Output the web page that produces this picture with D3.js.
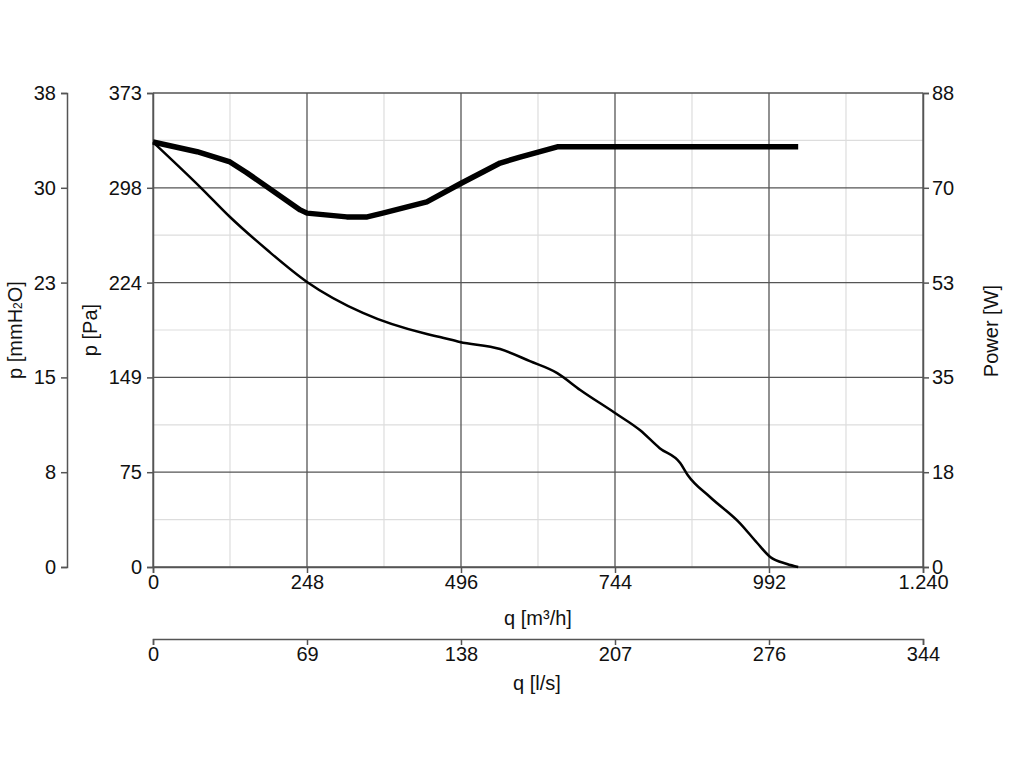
<!DOCTYPE html>
<html><head><meta charset="utf-8">
<script src="https://cdn.jsdelivr.net/npm/d3@7"></script>
<style>body{margin:0;background:#fff}svg{display:block}text{font-family:"Liberation Sans",Arial,sans-serif;fill:#111}</style>
</head><body>
<script>
// Flow (m³/h) and pressure (Pa) for the thin curve
const pressQ = [0, 76, 124, 184, 248, 338, 441, 462, 494, 559, 607, 651, 688, 744, 784, 816, 849, 861, 897, 945, 973, 994, 1021, 1039];
const pressPa = [334.4, 299.0, 275.4, 249.4, 224.3, 199.9, 183.3, 181.0, 177.1, 171.5, 162.0, 152.6, 139.3, 121.2, 107.8, 93.5, 81.8, 72.4, 55.1, 34.6, 18.9, 7.9, 2.4, 0];
// Flow (m³/h) and power (W) for the thick curve
const powerQ = [0, 71, 124, 151, 237, 248, 312, 345, 370, 441, 494, 559, 591, 651, 1039];
const powerW = [78.9, 77.1, 75.2, 73.2, 66.3, 65.7, 65.0, 65.0, 65.7, 67.8, 71.1, 75.0, 76.1, 78.0, 78.0];
// axis maxima and tick labels
const qMax = 1240, paMax = 373, mmMax = 38, wMax = 88, lsMax = 1240/3.6;
const qTicks = ["0","248","496","744","992","1.240"];
const paTicks = ["0","75","149","224","298","373"];
const mmTicks = ["0","8","15","23","30","38"];
const wTicks = ["0","18","35","53","70","88"];
const lsTicks = ["0","69","138","207","276","344"];

const W = 1024, H = 768;
const L = 153, R = 923, T = 93, B = 567;
const svg = d3.select("body").append("svg").attr("width", W).attr("height", H);

const x = d3.scaleLinear().domain([0, qMax]).range([L, R]);
const xls = d3.scaleLinear().domain([0, lsMax]).range([L, R]);
const y = d3.scaleLinear().domain([0, paMax]).range([B, T]);
const ymm = d3.scaleLinear().domain([0, mmMax]).range([B, T]);
const yw = d3.scaleLinear().domain([0, wMax]).range([B, T]);

const fs = 20;
const axisCol = "#555";

// minor grid
const g = svg.append("g");
for (let i = 0; i < 5; i++) {
  const v = (i + 0.5) * qMax / 5;
  g.append("line").attr("x1", x(v)).attr("x2", x(v)).attr("y1", T).attr("y2", B).attr("stroke", "#ddd").attr("stroke-width", 1.2);
  const pv = (i + 0.5) * paMax / 5;
  g.append("line").attr("x1", L).attr("x2", R).attr("y1", y(pv)).attr("y2", y(pv)).attr("stroke", "#ddd").attr("stroke-width", 1.2);
}
// major grid
for (let i = 0; i <= 5; i++) {
  const v = i * qMax / 5;
  g.append("line").attr("x1", x(v)).attr("x2", x(v)).attr("y1", T).attr("y2", B).attr("stroke", axisCol).attr("stroke-width", 1.3);
  const pv = i * paMax / 5;
  g.append("line").attr("x1", L).attr("x2", R).attr("y1", y(pv)).attr("y2", y(pv)).attr("stroke", axisCol).attr("stroke-width", 1.3);
}

function styleAxis(sel) {
  sel.selectAll("path").attr("stroke", axisCol).attr("stroke-width", 1.5);
  sel.selectAll("line").attr("stroke", axisCol).attr("stroke-width", 1.5);
  sel.selectAll("text").attr("font-size", fs).attr("font-family", '"Liberation Sans",Arial,sans-serif').attr("fill", "#111");
}

// bottom q axis
const ax1 = svg.append("g").attr("transform", `translate(0,${B})`)
  .call(d3.axisBottom(x).tickValues(d3.range(6).map(i => i * qMax / 5)).tickFormat((d, i) => qTicks[i]).tickSizeOuter(0).tickSize(6).tickPadding(2));
styleAxis(ax1);
// l/s axis
const ax2 = svg.append("g").attr("transform", `translate(0,639)`)
  .call(d3.axisBottom(xls).tickValues(d3.range(6).map(i => i * lsMax / 5)).tickFormat((d, i) => lsTicks[i]).tickSizeOuter(6).tickSize(6).tickPadding(2));
styleAxis(ax2);
// Pa axis
const ay1 = svg.append("g").attr("transform", `translate(${L},0)`)
  .call(d3.axisLeft(y).tickValues(d3.range(6).map(i => i * paMax / 5)).tickFormat((d, i) => paTicks[i]).tickSizeOuter(0).tickSize(6).tickPadding(5));
styleAxis(ay1);
// mmH2O axis
const ay2 = svg.append("g").attr("transform", `translate(67,0)`)
  .call(d3.axisLeft(ymm).tickValues(d3.range(6).map(i => i * mmMax / 5)).tickFormat((d, i) => mmTicks[i]).tickSizeOuter(0).tickSize(6).tickPadding(5));
styleAxis(ay2);
// W axis
const ay3 = svg.append("g").attr("transform", `translate(${R},0)`)
  .call(d3.axisRight(yw).tickValues(d3.range(6).map(i => i * wMax / 5)).tickFormat((d, i) => wTicks[i]).tickSizeOuter(0).tickSize(6).tickPadding(3));
styleAxis(ay3);

// axis titles
svg.append("text").attr("x", 538).attr("y", 625).attr("text-anchor", "middle").attr("font-size", fs).text("q [m³/h]");
svg.append("text").attr("x", 537).attr("y", 690).attr("text-anchor", "middle").attr("font-size", fs).text("q [l/s]");
const t1 = svg.append("text").attr("transform", "translate(22,330) rotate(-90)").attr("text-anchor", "middle").attr("font-size", fs);
t1.append("tspan").text("p [mmH");
t1.append("tspan").attr("font-size", 12).text("2");
t1.append("tspan").text("O]");
svg.append("text").attr("transform", "translate(97,330) rotate(-90)").attr("text-anchor", "middle").attr("font-size", fs).text("p [Pa]");
svg.append("text").attr("transform", "translate(998,331) rotate(-90)").attr("text-anchor", "middle").attr("font-size", fs).text("Power [W]");

// curves
const linePa = d3.line().x(d => x(d[0])).y(d => y(d[1])).curve(d3.curveMonotoneX);
const lineW = d3.line().x(d => x(d[0])).y(d => yw(d[1])).curve(d3.curveLinear);
svg.append("path").datum(pressQ.map((q, i) => [q, pressPa[i]])).attr("d", linePa)
  .attr("fill", "none").attr("stroke", "#000").attr("stroke-width", 2.5).attr("stroke-linejoin", "round");
svg.append("path").datum(powerQ.map((q, i) => [q, powerW[i]])).attr("d", lineW)
  .attr("fill", "none").attr("stroke", "#000").attr("stroke-width", 5.5).attr("stroke-linejoin", "round");
</script>
</body></html>
